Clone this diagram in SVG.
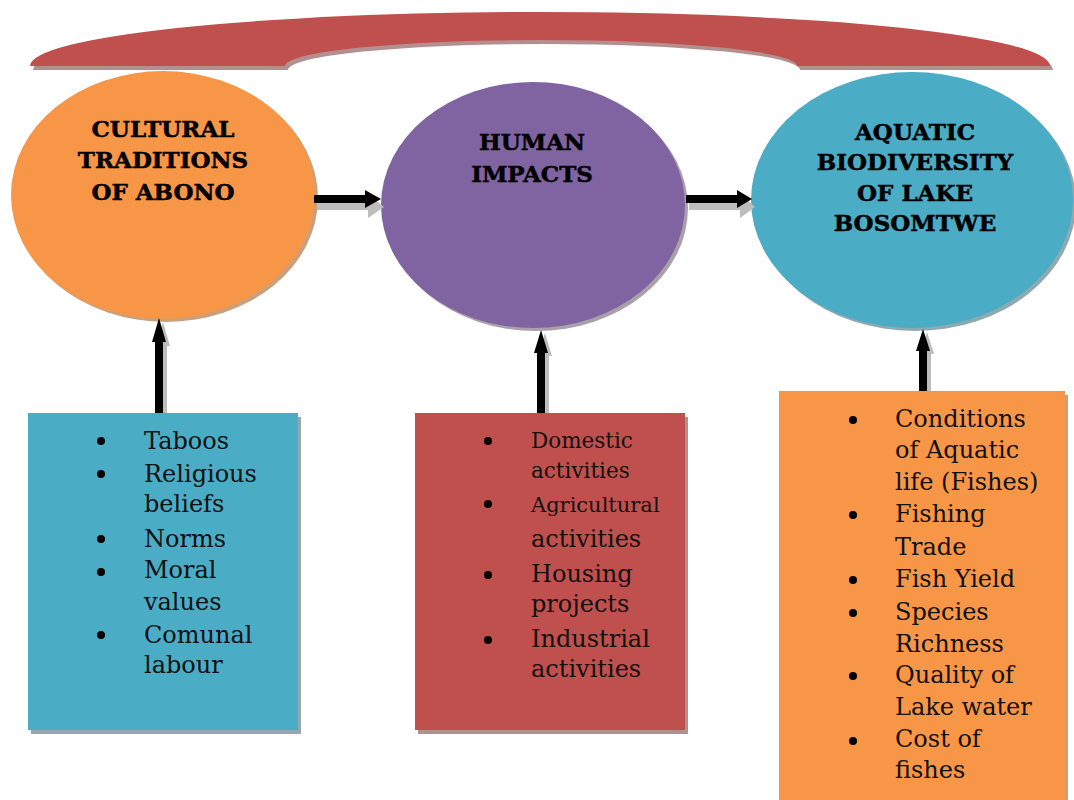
<svg xmlns="http://www.w3.org/2000/svg" width="1074" height="800" viewBox="0 0 1074 800">
<style>
.title{font-family:"DejaVu Serif","Liberation Serif",serif;font-weight:bold;font-size:23px;fill:#000;stroke:#000;stroke-width:0.5;text-anchor:middle}
.item{font-family:"DejaVu Serif","Liberation Serif",serif;font-size:24px;fill:#111}
.sm{font-size:21.5px}
.md{font-size:21px}
.arr{fill:#000}
.arrs{fill:#bdbdbd}
</style>
<rect width="1074" height="800" fill="#fff"/>
<g id="arch">
<path d="M33,70 A510,54 0 0 1 1053,70 L800,70 A256,26 0 0 0 288,70 Z" fill="#b39090"/>
<path d="M30,66 A510,54 0 0 1 1050,66 L797,66 A256,26 0 0 0 285,66 Z" fill="#c0504d"/>
</g>
<g id="node-cultural">
<ellipse cx="166" cy="198" rx="152" ry="124" fill="#c9a07e"/>
<ellipse cx="163" cy="195" rx="152" ry="124" fill="#f79646"/>
<text class="title" x="163" y="137">CULTURAL</text>
<text class="title" x="163" y="168">TRADITIONS</text>
<text class="title" x="163" y="200">OF ABONO</text>
</g>
<g id="node-human">
<ellipse cx="536" cy="208" rx="152" ry="123" fill="#a9a0a9"/>
<ellipse cx="533" cy="205" rx="152" ry="123" fill="#8064a2"/>
<text class="title" x="532" y="150">HUMAN</text>
<text class="title" x="532" y="182">IMPACTS</text>
</g>
<g id="node-aquatic">
<ellipse cx="915" cy="203" rx="161" ry="128" fill="#8fa9b0"/>
<ellipse cx="912" cy="200" rx="161" ry="128" fill="#4bacc6"/>
<text class="title" x="915" y="140">AQUATIC</text>
<text class="title" x="915" y="170">BIODIVERSITY</text>
<text class="title" x="915" y="201">OF LAKE</text>
<text class="title" x="915" y="231">BOSOMTWE</text>
</g>
<g id="connectors">
<path class="arrs" d="M317,199 L368,199 L368,194 L384,207 L368,218 L368,210 L317,210 Z"/>
<path class="arr" d="M314,195 L365,195 L365,190 L381,199 L365,208 L365,203 L314,203 Z"/>
<path class="arrs" d="M689,199 L740,199 L740,194 L755,207 L740,218 L740,210 L689,210 Z"/>
<path class="arr" d="M686,195 L737,195 L737,190 L752,199 L737,208 L737,203 L686,203 Z"/>
<path class="arrs" d="M159,416 L159,346 L156,346 L163,322 L170,346 L167,346 L167,416 Z"/>
<path class="arr" d="M155,413 L155,342 L152,342 L159,318 L166,342 L163,342 L163,413 Z"/>
<path class="arrs" d="M541,416 L541,356 L538,356 L545,333 L552,356 L549,356 L549,416 Z"/>
<path class="arr" d="M537,413 L537,353 L534,353 L541,330 L548,353 L545,353 L545,413 Z"/>
<path class="arrs" d="M923,394 L923,354 L920,354 L927,332 L934,354 L931,354 L931,394 Z"/>
<path class="arr" d="M919,391 L919,351 L916,351 L923,329 L930,351 L927,351 L927,391 Z"/>
</g>
<g id="box-cultural">
<rect x="31" y="417" width="270" height="317" fill="#93a9ae"/>
<rect x="28" y="413" width="270" height="317" fill="#4bacc6"/>
<g fill="#000"><circle cx="101" cy="441" r="4"/><circle cx="101" cy="474" r="4"/><circle cx="101" cy="539" r="4"/><circle cx="101" cy="572" r="4"/><circle cx="101" cy="635" r="4"/></g>
<text class="item" x="144" y="449">Taboos</text>
<text class="item" x="144" y="482">Religious</text>
<text class="item" x="144" y="512">beliefs</text>
<text class="item" x="144" y="547">Norms</text>
<text class="item" x="144" y="578">Moral</text>
<text class="item" x="144" y="610">values</text>
<text class="item" x="144" y="643">Comunal</text>
<text class="item" x="144" y="673">labour</text>
</g>
<g id="box-human">
<rect x="418" y="417" width="270" height="317" fill="#b39090"/>
<rect x="415" y="413" width="270" height="317" fill="#c0504d"/>
<g fill="#000"><circle cx="488" cy="441" r="4"/><circle cx="488" cy="504" r="4"/><circle cx="488" cy="575" r="4"/><circle cx="488" cy="640" r="4"/></g>
<text class="item sm" x="531" y="448">Domestic</text>
<text class="item sm" x="531" y="478">activities</text>
<text class="item md" x="531" y="512">Agricultural</text>
<text class="item" x="531" y="547">activities</text>
<text class="item" x="531" y="582">Housing</text>
<text class="item" x="531" y="612">projects</text>
<text class="item" x="531" y="647">Industrial</text>
<text class="item" x="531" y="677">activities</text>
</g>
<g id="box-aquatic">
<rect x="782" y="395" width="286" height="410" fill="#c9a07e"/>
<rect x="779" y="391" width="286" height="410" fill="#f79646"/>
<g fill="#000"><circle cx="853" cy="420" r="4"/><circle cx="853" cy="515" r="4"/><circle cx="853" cy="580" r="4"/><circle cx="853" cy="613" r="4"/><circle cx="853" cy="676" r="4"/><circle cx="853" cy="741" r="4"/></g>
<text class="item" x="895" y="427">Conditions</text>
<text class="item" x="895" y="458">of Aquatic</text>
<text class="item" x="895" y="490">life (Fishes)</text>
<text class="item" x="895" y="522">Fishing</text>
<text class="item" x="895" y="555">Trade</text>
<text class="item" x="895" y="587">Fish Yield</text>
<text class="item" x="895" y="620">Species</text>
<text class="item" x="895" y="652">Richness</text>
<text class="item" x="895" y="683">Quality of</text>
<text class="item" x="895" y="715">Lake water</text>
<text class="item" x="895" y="747">Cost of</text>
<text class="item" x="895" y="778">fishes</text>
</g>
</svg>
